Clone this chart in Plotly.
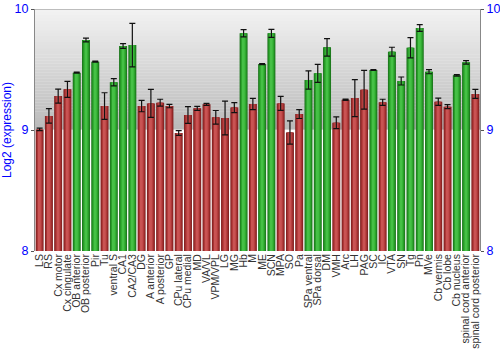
import plotly.graph_objects as go

regions = ["LS", "RS", "Cx motor", "Cx cingulate", "OB anterior", "OB posterior", "Pir", "Tu",
           "ventral S", "CA1", "CA2/CA3", "DG", "A anterior", "A posterior", "GP", "CPu lateral",
           "CPu medial", "MD", "VA/VL", "VPM/VPL", "LG", "MG", "Hb", "M", "ME", "SCN", "MPA", "SO",
           "Pa", "SPa ventral", "SPa dorsal", "DM", "VMH", "Arc", "LH", "PAG", "SC", "IC", "VTA",
           "SN", "Tg", "Pn", "MVe", "Cb vermis", "Cb lobe", "Cb nucleus", "spinal cord anterior",
           "spinal cord posterior"]

expression = [9.005, 9.116, 9.28, 9.336, 9.474, 9.744, 9.565, 9.198,
              9.394, 9.694, 9.702, 9.198, 9.22, 9.226, 9.198, 8.975,
              9.124, 9.179, 9.212, 9.105, 9.099, 9.185, 9.799, 9.215, 9.545, 9.799, 9.22, 8.98,
              9.132, 9.413, 9.468, 9.683, 9.06, 9.25, 9.264, 9.333, 9.496, 9.229, 9.647,
              9.405, 9.68, 9.843, 9.482, 9.234, 9.193, 9.452, 9.559,
              9.298]

std_err = [0.01, 0.06, 0.058, 0.066, 0.005, 0.016, 0.004, 0.11,
           0.03, 0.02, 0.18, 0.047, 0.116, 0.028, 0.014, 0.02,
           0.07, 0.017, 0.008, 0.056, 0.14, 0.041, 0.03, 0.047, 0.004, 0.033, 0.058, 0.096,
           0.037, 0.076, 0.074, 0.072, 0.048, 0.005, 0.153, 0.16, 0.004, 0.025, 0.037,
           0.033, 0.084, 0.028, 0.017, 0.03, 0.017, 0.006, 0.014,
           0.037]

# "g" = above-median group (green), "r" = below (red)
group = ["r", "r", "r", "r", "g", "g", "g", "r",
         "g", "g", "g", "r", "r", "r", "r", "r",
         "r", "r", "r", "r", "r", "r", "g", "r", "g", "g", "r", "r",
         "r", "g", "g", "g", "r", "r", "r", "r", "g", "r", "g",
         "g", "g", "g", "g", "r", "r", "g", "g",
         "r"]

# shaded bar colors from edge (dark) to centre (light)
red_shades = ["#7e1f1f", "#962a2a", "#ab3636", "#bd4545", "#c95353"]
green_shades = ["#1c731c", "#238c23", "#2ca32c", "#38b538", "#46c046"]
widths = [0.86, 0.72, 0.56, 0.38, 0.2]

fig = go.Figure()

for i, w in enumerate(widths):
    cols = [red_shades[i] if g == "r" else green_shades[i] for g in group]
    fig.add_trace(go.Bar(
        x=regions, y=expression, width=w,
        marker=dict(color=cols, line=dict(width=0)),
        hoverinfo="skip" if i else "x+y", showlegend=False,
    ))

fig.add_trace(go.Scatter(
    x=regions, y=expression, mode="markers",
    marker=dict(size=1, color="rgba(0,0,0,0)"),
    error_y=dict(type="data", array=std_err, color="#111111", thickness=1.2, width=3),
    showlegend=False, hoverinfo="skip",
))

# invisible trace to carry the mirrored right-hand axis
fig.add_trace(go.Scatter(x=[regions[0]], y=[9], yaxis="y2", mode="markers",
                         marker=dict(color="rgba(0,0,0,0)"), showlegend=False,
                         hoverinfo="skip"))

# vertical grey gradient behind the upper half of the plot
shapes = []
n = 40
top = (0xf3, 0xf3, 0xf3)
bot = (0xb9, 0xb9, 0xb9)
for k in range(n):
    t = (k + 0.5) / n
    c = tuple(int(round(bot[j] + (top[j] - bot[j]) * t)) for j in range(3))
    shapes.append(dict(type="rect", xref="paper", yref="y", x0=0, x1=1,
                       y0=9 + k / n, y1=9 + (k + 1) / n + 0.002,
                       fillcolor="rgb(%d,%d,%d)" % c, line=dict(width=0), layer="below"))
shapes.append(dict(type="line", xref="paper", yref="y", x0=0, x1=1, y0=9, y1=9,
                   line=dict(color="rgba(255,255,255,0.8)", width=1), layer="below"))
shapes.append(dict(type="line", xref="paper", yref="y", x0=0, x1=1, y0=10, y1=10,
                   line=dict(color="#888888", width=1.2)))

axis_font = dict(family="Liberation Sans, Arial, sans-serif", size=12.5, color="#0000ff")

fig.update_layout(
    width=500, height=350,
    margin=dict(l=35, r=20, t=9, b=99),
    paper_bgcolor="white", plot_bgcolor="white",
    barmode="overlay", bargap=0.1,
    shapes=shapes,
    xaxis=dict(
        type="category", tickangle=-90, showgrid=False, showline=False,
        range=[-0.5, len(regions) - 0.5],
        tickmode="linear", dtick=1, automargin=False,
        ticks="", tickfont=dict(family="Liberation Sans, Arial, sans-serif", size=10.5,
                                color="#333333"),
        ticklen=0,
    ),
    yaxis=dict(
        range=[8, 10], tickvals=[8, 9, 10], showgrid=False, zeroline=False,
        showline=True, linecolor="#888888", linewidth=1.2, automargin=False,
        ticks="outside", ticklen=3, tickcolor="#555555",
        tickfont=axis_font,
        title=dict(text="Log2 (expression)", font=dict(family="Liberation Sans, Arial, sans-serif",
                                                      size=12, color="#0000ff"), standoff=6),
    ),
    yaxis2=dict(
        range=[8, 10], tickvals=[8, 9, 10], overlaying="y", side="right",
        showgrid=False, zeroline=False, showline=True, linecolor="#888888", linewidth=1.2,
        ticks="outside", ticklen=3, tickcolor="#555555", tickfont=axis_font, automargin=False,
    ),
)

fig.write_html("out.html")
